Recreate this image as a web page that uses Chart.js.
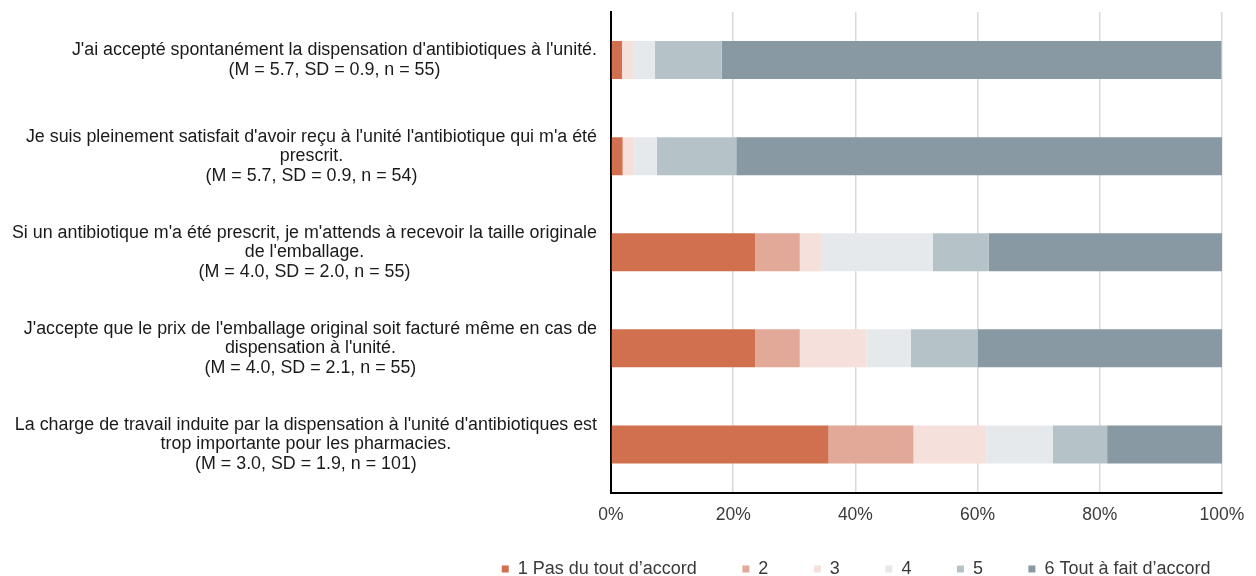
<!DOCTYPE html>
<html>
<head>
<meta charset="utf-8">
<script src="https://cdn.jsdelivr.net/npm/chart.js@4/dist/chart.umd.min.js"></script>
<style>
  html, body { margin: 0; padding: 0; background: #ffffff; }
  #wrap { width: 1256px; height: 576px; }
</style>
</head>
<body>
<div id="wrap"><canvas id="c" width="1256" height="576"></canvas></div>
<script>
// ---- data ----
const categories = [
  ["J'ai accepté spontanément la dispensation d'antibiotiques à l'unité.", "(M = 5.7, SD = 0.9, n = 55)"],
  ["Je suis pleinement satisfait d'avoir reçu à l'unité l'antibiotique qui m'a été", "prescrit.", "(M = 5.7, SD = 0.9, n = 54)"],
  ["Si un antibiotique m'a été prescrit, je m'attends à recevoir la taille originale", "de l'emballage.", "(M = 4.0, SD = 2.0, n = 55)"],
  ["J'accepte que le prix de l'emballage original soit facturé même en cas de", "dispensation à l'unité.", "(M = 4.0, SD = 2.1, n = 55)"],
  ["La charge de travail induite par la dispensation à l'unité d'antibiotiques est", "trop importante pour les pharmacies.", "(M = 3.0, SD = 1.9, n = 101)"]
];
const seriesNames = ["1 Pas du tout d\u2019accord", "2", "3", "4", "5", "6 Tout à fait d\u2019accord"];
const s1 = [1.8, 1.9, 23.6, 23.6, 35.6];
const s2 = [0, 0, 7.3, 7.3, 13.9];
const s3 = [1.8, 1.9, 3.6, 10.9, 11.9];
const s4 = [3.6, 3.7, 18.2, 7.3, 10.9];
const s5 = [10.9, 13.0, 9.1, 10.9, 8.9];
const s6 = [81.8, 79.6, 38.2, 40.0, 18.8];
const xTickValues = [0, 20, 40, 60, 80, 100];

// ---- styles ----
const colors = ["#D0704F", "#E2A998", "#F5E0DB", "#E6E9EC", "#B5C2C8", "#8899A3"];
const FONT = "'Liberation Sans', Arial, sans-serif";

const seriesValues = [s1, s2, s3, s4, s5, s6];
const datasets = seriesValues.map((vals, i) => ({
  label: seriesNames[i],
  data: vals,
  backgroundColor: colors[i],
  borderWidth: 0,
  barPercentage: 0.395,
  categoryPercentage: 1.0
}));

// multi-line category labels: each block right-aligned, its lines centred
const yLabelPlugin = {
  id: 'yLabels',
  afterDraw(chart) {
    const ctx = chart.ctx;
    const yScale = chart.scales.y;
    const rightEdge = chart.chartArea.left - 14;
    const lineH = 19.5;
    ctx.save();
    ctx.font = "17.85px " + FONT;
    ctx.fillStyle = "#1a1a1a";
    ctx.textAlign = "center";
    ctx.textBaseline = "middle";
    categories.forEach((lines, i) => {
      const cy = yScale.getPixelForValue(i);
      const w = Math.max(...lines.map(l => ctx.measureText(l).width));
      const cx = rightEdge - w / 2;
      const top = cy - (lines.length - 1) * lineH / 2;
      lines.forEach((l, j) => ctx.fillText(l, cx, top + j * lineH));
    });
    ctx.restore();
  }
};

// lift the legend row closer to the axis labels (extend its box upward)
const legendShift = {
  id: 'legendShift',
  afterLayout(chart) {
    const lg = chart.legend;
    if (lg) { lg.top -= 13; lg.height += 13; }
  }
};

new Chart(document.getElementById('c'), {
  type: 'bar',
  data: { labels: categories.map((l, i) => String(i)), datasets },
  options: {
    indexAxis: 'y',
    responsive: false,
    animation: false,
    layout: { padding: { left: 0, right: 0, top: 12, bottom: 0 } },
    scales: {
      x: {
        stacked: true,
        min: 0,
        max: 100,
        afterBuildTicks: (scale) => { scale.ticks = xTickValues.map(v => ({ value: v })); },
        afterFit: (scale) => { scale.height = 35; scale.paddingRight = 34; },
        ticks: {
          callback: (v) => v + '%',
          color: '#3a3a3a',
          font: { family: FONT, size: 17.5 },
          padding: 12.5,
          maxRotation: 0
        },
        grid: { color: '#d9d9d9', lineWidth: 1.5, drawTicks: false },
        border: { color: '#000000', width: 2 }
      },
      y: {
        stacked: true,
        afterFit: (scale) => { scale.width = 611; },
        ticks: { display: false },
        grid: { display: false, drawTicks: false },
        border: { color: '#000000', width: 2 }
      }
    },
    plugins: {
      legend: {
        position: 'bottom',
        align: 'end',
        maxHeight: 48.5,
        labels: {
          boxWidth: 7,
          boxHeight: 7,
          padding: 45.5,
          color: '#3a3a3a',
          font: { family: FONT, size: 18 }
        }
      },
      tooltip: { enabled: false }
    }
  },
  plugins: [yLabelPlugin, legendShift]
});
</script>
</body>
</html>
